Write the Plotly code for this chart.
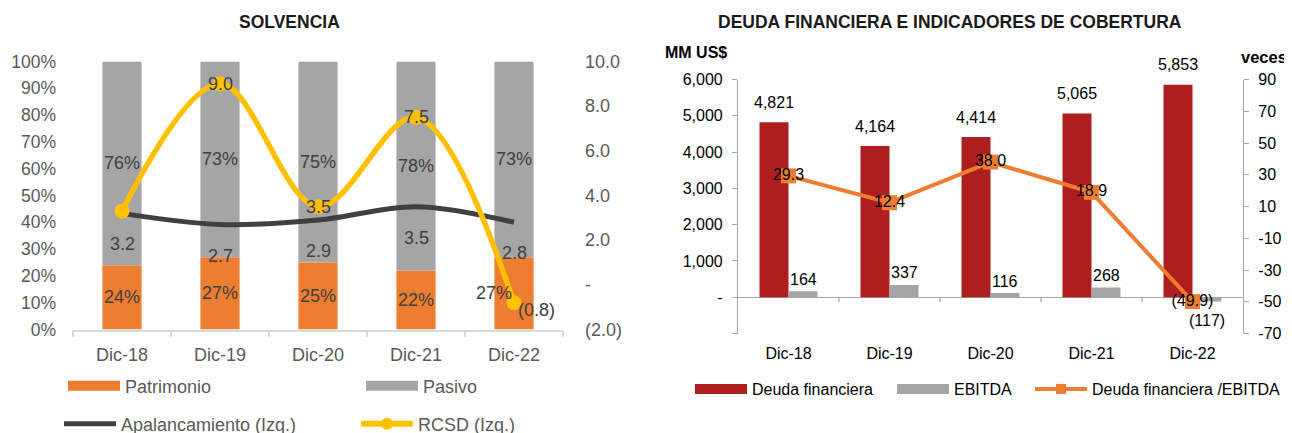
import plotly.graph_objects as go

W, H = 1292, 433
OFF = 8  # page body margin of the browser

# ---------------- data ----------------
categories = ["Dic-18", "Dic-19", "Dic-20", "Dic-21", "Dic-22"]

patrimonio = [0.24, 0.27, 0.25, 0.22, 0.27]
pasivo = [0.76, 0.73, 0.75, 0.78, 0.73]
apalancamiento = [3.2, 2.7, 2.9, 3.5, 2.8]
rcsd = [3.3, 9.0, 3.5, 7.5, -0.8]
rcsd_label_show = [False, True, True, True, True]

deuda = [4821, 4164, 4414, 5065, 5853]
ebitda = [164, 337, 116, 268, -117]
deuda_ebitda = [29.3, 12.4, 38.0, 18.9, -49.9]

left_pct_ticks = [0.0, 0.1, 0.2, 0.3, 0.4, 0.5, 0.6, 0.7, 0.8, 0.9, 1.0]
left_sec_ticks = [-2, 0, 2, 4, 6, 8, 10]
right_mm_ticks = [-1000, 0, 1000, 2000, 3000, 4000, 5000, 6000]
right_veces_ticks = [-70, -50, -30, -10, 10, 30, 50, 70, 90]

# ---------------- helpers ----------------
FONT = "Liberation Sans, Arial, sans-serif"
C_ORANGE = "#ED7D31"
C_GRAY = "#A5A5A5"
C_YELLOW = "#FFC000"
C_DARK = "#404040"
C_RED = "#AD1F1F"
C_TXT_L = "#595959"
C_TXT_R = "#000000"


def px(x):
    return (x - OFF) / W


def py(y):
    return 1 - (y - OFF) / H


def fmt1(v):
    if v == 0:
        return "-"
    return f"({abs(v):.1f})" if v < 0 else f"{v:.1f}"


def fmt_int(v, blank_neg=False):
    if v == 0:
        return "-"
    if v < 0:
        return "" if blank_neg else f"({abs(v):,.0f})"
    return f"{v:,.0f}"


def fmt_plain(v):
    return f"{v:.0f}"


LX = [px(73), px(563)]
LY = [py(329.5), py(61.5)]
RX = [px(738), px(1243)]
RY = [py(333.5), py(79.5)]

fig = go.Figure()

# ---------------- left chart: SOLVENCIA ----------------
fig.add_trace(go.Bar(x=categories, y=patrimonio, width=0.4, offset=-0.2,
                     marker=dict(color=C_ORANGE, line=dict(width=0)),
                     xaxis="x", yaxis="y", showlegend=False, name="Patrimonio"))
fig.add_trace(go.Bar(x=categories, y=pasivo, base=patrimonio, width=0.4, offset=-0.2,
                     marker=dict(color=C_GRAY, line=dict(width=0)),
                     xaxis="x", yaxis="y", showlegend=False, name="Pasivo"))
fig.add_trace(go.Scatter(x=categories, y=apalancamiento, mode="lines",
                         line=dict(color=C_DARK, width=5, shape="spline", smoothing=1),
                         xaxis="x", yaxis="y2", name="Apalancamiento (Izq.)",
                         legend="legend3"))
fig.add_trace(go.Scatter(x=categories, y=rcsd, mode="lines+markers",
                         line=dict(color=C_YELLOW, width=5.5, shape="spline", smoothing=1),
                         marker=dict(color=C_YELLOW, size=15, symbol="circle"),
                         xaxis="x", yaxis="y2", name="RCSD (Izq.)", showlegend=False))
# legend-only entries
fig.add_trace(go.Scatter(x=[None], y=[None], mode="lines", name="Patrimonio",
                         line=dict(color=C_ORANGE, width=11),
                         xaxis="x", yaxis="y", legend="legend"))
fig.add_trace(go.Scatter(x=[None], y=[None], mode="lines", name="Pasivo",
                         line=dict(color=C_GRAY, width=11),
                         xaxis="x", yaxis="y", legend="legend2"))
fig.add_trace(go.Scatter(x=[None], y=[None], mode="lines+markers", name="RCSD (Izq.)",
                         line=dict(color=C_YELLOW, width=6),
                         marker=dict(color=C_YELLOW, size=12, symbol="circle"),
                         xaxis="x", yaxis="y2", legend="legend4"))

# ---------------- right chart ----------------
fig.add_trace(go.Bar(x=categories, y=deuda, width=0.287, offset=-0.287,
                     marker=dict(color=C_RED, line=dict(width=0)),
                     xaxis="x2", yaxis="y3", showlegend=False, name="Deuda financiera"))
fig.add_trace(go.Bar(x=categories, y=ebitda, width=0.287, offset=0,
                     marker=dict(color=C_GRAY, line=dict(width=0)),
                     xaxis="x2", yaxis="y3", showlegend=False, name="EBITDA"))
fig.add_trace(go.Scatter(x=categories, y=deuda_ebitda, mode="lines+markers+text",
                         line=dict(color=C_ORANGE, width=4),
                         marker=dict(color=C_ORANGE, size=15, symbol="square"),
                         text=[fmt1(v) for v in deuda_ebitda], textposition="middle center",
                         textfont=dict(family=FONT, size=16, color=C_TXT_R),
                         xaxis="x2", yaxis="y4", name="Deuda financiera /EBITDA",
                         showlegend=False, cliponaxis=False))
fig.add_trace(go.Scatter(x=[None], y=[None], mode="lines", name="Deuda financiera",
                         line=dict(color=C_RED, width=11),
                         xaxis="x2", yaxis="y3", legend="legend5"))
fig.add_trace(go.Scatter(x=[None], y=[None], mode="lines", name="EBITDA",
                         line=dict(color=C_GRAY, width=11),
                         xaxis="x2", yaxis="y3", legend="legend6"))
fig.add_trace(go.Scatter(x=[None], y=[None], mode="lines+markers",
                         name="Deuda financiera /EBITDA",
                         line=dict(color=C_ORANGE, width=4),
                         marker=dict(color=C_ORANGE, size=10, symbol="square"),
                         xaxis="x2", yaxis="y4", legend="legend7"))

# ---------------- annotations ----------------
ann = []
lab_l = dict(family=FONT, size=18, color=C_DARK)
lab_r = dict(family=FONT, size=16, color=C_TXT_R)
# bar / line labels (left)
pat_xshift = [0, 0, 0, 0, -20]
for i, c in enumerate(categories):
    ann.append(dict(x=c, y=patrimonio[i] / 2, xref="x", yref="y", text=f"{patrimonio[i]:.0%}",
                    showarrow=False, font=lab_l, xshift=pat_xshift[i]))
    ann.append(dict(x=c, y=patrimonio[i] + pasivo[i] / 2, xref="x", yref="y",
                    text=f"{pasivo[i]:.0%}", showarrow=False, font=lab_l))
    ann.append(dict(x=c, y=apalancamiento[i], xref="x", yref="y2", text=fmt1(apalancamiento[i]),
                    showarrow=False, font=lab_l, yshift=-31))
    if rcsd_label_show[i]:
        if rcsd[i] < 0:
            ann.append(dict(x=c, y=rcsd[i], xref="x", yref="y2", text=fmt1(rcsd[i]),
                            showarrow=False, font=lab_l, xanchor="left", xshift=2, yshift=-7))
        else:
            ann.append(dict(x=c, y=rcsd[i], xref="x", yref="y2", text=fmt1(rcsd[i]),
                            showarrow=False, font=lab_l))
# bar labels (right)
for i, c in enumerate(categories):
    ann.append(dict(x=c, y=deuda[i], xref="x2", yref="y3", text=fmt_int(deuda[i]),
                    showarrow=False, font=lab_r, xshift=-14.5, yshift=20))
    ann.append(dict(x=c, y=ebitda[i], xref="x2", yref="y3", text=fmt_int(ebitda[i]),
                    showarrow=False, font=lab_r, xshift=14.5,
                    yshift=12 if ebitda[i] >= 0 else -19))

# titles
ann.append(dict(x=px(289), y=py(22), xref="paper", yref="paper", text="<b>SOLVENCIA</b>",
                xanchor="center", yanchor="middle",
                showarrow=False, font=dict(family=FONT, size=17.5, color="#1a1a1a")))
ann.append(dict(x=px(950), y=py(22), xref="paper", yref="paper",
                text="<b>DEUDA FINANCIERA E INDICADORES DE COBERTURA</b>",
                xanchor="center", yanchor="middle",
                showarrow=False, font=dict(family=FONT, size=17.5, color="#1a1a1a")))
ann.append(dict(x=px(663), y=py(53), xref="paper", yref="paper", text="<b>MM US$</b>",
                xanchor="left", yanchor="middle",
                showarrow=False, font=dict(family=FONT, size=16, color="#000")))
ann.append(dict(x=px(1239), y=py(57), xref="paper", yref="paper", text="<b>veces</b>",
                xanchor="left", yanchor="middle",
                showarrow=False, font=dict(family=FONT, size=16.5, color="#000")))

# tick marks on the zero line at category boundaries (right chart)
shapes = []
for i in range(len(categories) - 1):
    shapes.append(dict(type="line", xref="x2", yref="y3", x0=i + 0.5, x1=i + 0.5,
                       ysizemode="pixel", yanchor=0, y0=0, y1=-5,
                       line=dict(color="#A6A6A6", width=1.2)))

# ---------------- legends ----------------
def leg(x_sym, y_c, color):
    return dict(orientation="h", x=px(x_sym), y=py(y_c), xanchor="left", yanchor="middle",
                bgcolor="rgba(0,0,0,0)", borderwidth=0, itemwidth=52,
                font=dict(family=FONT, size=18 if color == C_TXT_L else 16, color=color))

layout_legends = dict(
    legend=leg(63, 386, C_TXT_L),
    legend2=leg(361, 386, C_TXT_L),
    legend3=leg(59, 424, C_TXT_L),
    legend4=leg(356, 424, C_TXT_L),
    legend5=leg(690, 389, C_TXT_R),
    legend6=leg(892, 389, C_TXT_R),
    legend7=leg(1030, 389, C_TXT_R),
)

fig.update_layout(
    width=W, height=H,
    margin=dict(l=0, r=0, t=0, b=0, autoexpand=False),
    paper_bgcolor="white", plot_bgcolor="rgba(0,0,0,0)",
    barmode="overlay",
    font=dict(family=FONT),
    annotations=ann, shapes=shapes,
    xaxis=dict(domain=LX, anchor="y", type="category", range=[-0.5, 4.5],
               showline=True, linecolor="#D9D9D9", linewidth=1.5,
               ticks="outside", tickson="boundaries", ticklen=6, tickcolor="#D9D9D9",
               tickwidth=1.5, showgrid=False, zeroline=False,
               tickfont=dict(family=FONT, size=18, color=C_TXT_L), ticklabelstandoff=8),
    yaxis=dict(domain=LY, anchor="x", range=[0, 1], tickvals=left_pct_ticks, tickformat=".0%",
               showline=False, showgrid=False, zeroline=False, ticks="",
               tickfont=dict(family=FONT, size=17.5, color=C_TXT_L), ticklabelstandoff=16),
    yaxis2=dict(overlaying="y", side="right", anchor="x", range=[-2, 10],
                tickvals=left_sec_ticks, ticktext=[fmt1(v) for v in left_sec_ticks],
                showline=False, showgrid=False, zeroline=False, ticks="",
                tickfont=dict(family=FONT, size=18, color=C_TXT_L), ticklabelstandoff=21),
    xaxis2=dict(domain=RX, anchor="y3", type="category", range=[-0.5, 4.5],
                showline=False, ticks="", showgrid=False, zeroline=False,
                tickfont=dict(family=FONT, size=16, color=C_TXT_R), ticklabelstandoff=8),
    yaxis3=dict(domain=RY, anchor="x2", range=[-1000, 6000], tickvals=right_mm_ticks,
                ticktext=[fmt_int(v, blank_neg=True) for v in right_mm_ticks],
                showline=True, linecolor="#A6A6A6", linewidth=1.2,
                ticks="outside", ticklen=5, tickcolor="#A6A6A6", tickwidth=1.2,
                showgrid=False, zeroline=True, zerolinecolor="#A6A6A6", zerolinewidth=1.3,
                tickfont=dict(family=FONT, size=16, color=C_TXT_R), ticklabelstandoff=6),
    yaxis4=dict(overlaying="y3", side="right", anchor="x2", range=[-70, 90],
                tickvals=right_veces_ticks, ticktext=[fmt_plain(v) for v in right_veces_ticks],
                showline=True, linecolor="#A6A6A6", linewidth=1.2,
                ticks="outside", ticklen=5, tickcolor="#A6A6A6", tickwidth=1.2,
                showgrid=False, zeroline=False,
                tickfont=dict(family=FONT, size=16, color=C_TXT_R), ticklabelstandoff=6),
    **layout_legends,
)

fig.write_html("out.html")
